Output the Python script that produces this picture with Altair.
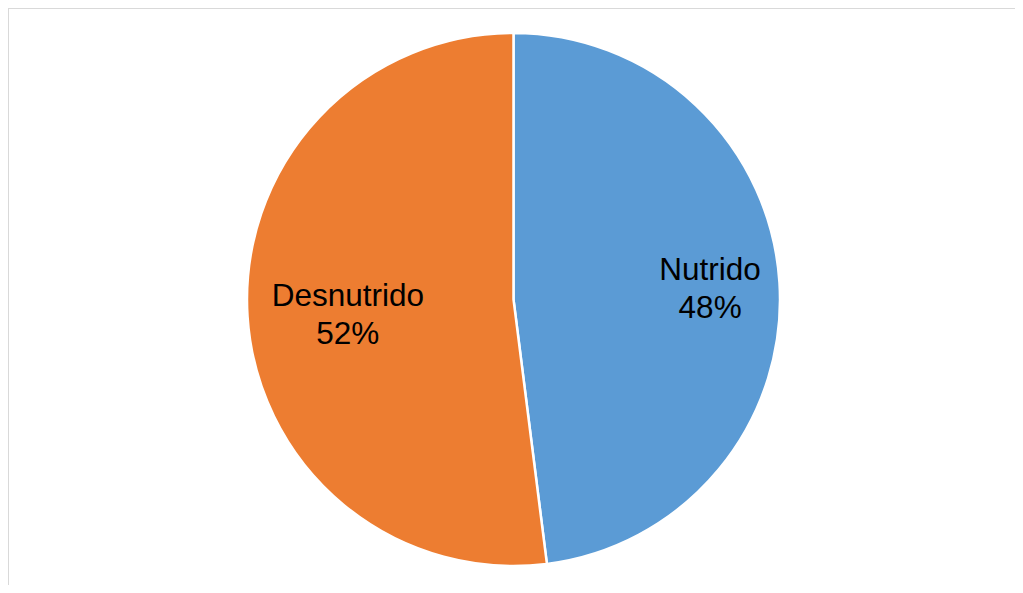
import altair as alt
import pandas as pd

categories = ["Nutrido", "Desnutrido"]
values = [48, 52]
labels = ["48%", "52%"]
colors = ["#5B9BD5", "#ED7D31"]

df = pd.DataFrame({
    "cat": categories,
    "val": values,
    "order": [0, 1],
    "label": [f"{c}\n{l}" for c, l in zip(categories, labels)],
})

W, H = 1007, 577
CX, CY = 505.5, 291.5
R = 266.5

pie = alt.Chart(df).mark_arc(outerRadius=R, stroke="white", strokeWidth=2.5).encode(
    theta=alt.Theta("val:Q", stack=True),
    order=alt.Order("order:Q"),
    color=alt.Color("cat:N", scale=alt.Scale(domain=categories, range=colors), legend=None),
    x=alt.value(CX), y=alt.value(CY),
)

def label_layer(name, radius, dy):
    return alt.Chart(df).transform_window(
        cum="sum(val)", sort=[alt.SortField("order")]
    ).transform_calculate(
        mid="datum.cum - datum.val / 2"
    ).transform_filter(alt.datum.cat == name).mark_text(
        radius=radius, font="Liberation Sans", fontSize=31.5, color="black",
        lineBreak="\n", lineHeight=38, align="center", baseline="middle", dy=dy,
    ).encode(
        theta=alt.Theta("mid:Q", stack=None, scale=alt.Scale(domain=[0, 100])),
        text="label:N", x=alt.value(CX), y=alt.value(CY),
    )

# decorative chart-frame edges
top_edge = alt.Chart(df).mark_rule(color="#d9d9d9", strokeWidth=2).encode(
    x=alt.value(0), x2=alt.value(W + 20), y=alt.value(0)
)
left_edge = alt.Chart(df).mark_rule(color="#d9d9d9", strokeWidth=2).encode(
    x=alt.value(0), y=alt.value(0), y2=alt.value(H + 20)
)

chart = alt.layer(
    pie, label_layer("Nutrido", 197, -16), label_layer("Desnutrido", 166, -13), top_edge, left_edge
).resolve_scale(theta="independent").properties(
    width=W, height=H, padding=0, autosize="none", background="white"
).configure_view(stroke=None)

chart.save("out.html", embed_options={"renderer": "svg", "actions": False})
